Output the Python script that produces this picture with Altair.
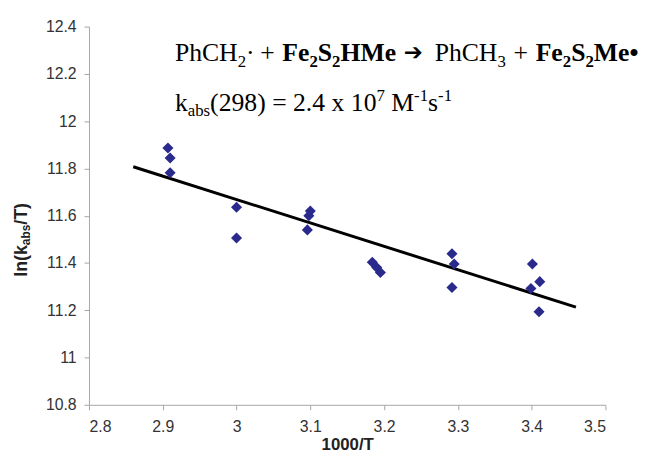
import altair as alt
import pandas as pd

# ---- data ----
inv_T = [2.907, 2.91, 2.91, 3.0, 3.0, 3.1, 3.098, 3.096, 3.184, 3.19, 3.195,
         3.292, 3.295, 3.292, 3.401, 3.411, 3.399, 3.41]
ln_kT = [11.886, 11.844, 11.782, 11.636, 11.506, 11.62, 11.60, 11.54, 11.403, 11.381, 11.36,
         11.439, 11.396, 11.296, 11.396, 11.321, 11.292, 11.194]
fit_x = [2.86, 3.46]
fit_y = [11.807, 11.213]
x_ticks = [2.8, 2.9, 3.0, 3.1, 3.2, 3.3, 3.4, 3.5]
y_ticks = [10.8, 11.0, 11.2, 11.4, 11.6, 11.8, 12.0, 12.2, 12.4]

W, H = 523, 383

pts = pd.DataFrame({"x": inv_T, "y": ln_kT})
fit = pd.DataFrame({"x": fit_x, "y": fit_y})

xs = alt.Scale(domain=[2.8, 3.5], nice=False, zero=False)
ys = alt.Scale(domain=[10.8, 12.4], nice=False, zero=False)

x_axis = alt.Axis(values=x_ticks, format="~g", title="1000/T", labelPadding=9,
                  titlePadding=2)
y_axis = alt.Axis(values=y_ticks, format="~g", title=None, labelPadding=8)

points = alt.Chart(pts).mark_point(shape="diamond", filled=True, size=125,
                                   color="#2a2a8c", opacity=1).encode(
    x=alt.X("x:Q", scale=xs, axis=x_axis),
    y=alt.Y("y:Q", scale=ys, axis=y_axis),
)
line = alt.Chart(fit).mark_line(color="black", strokeWidth=3).encode(
    x=alt.X("x:Q", scale=xs), y=alt.Y("y:Q", scale=ys))

# ---- rich text annotation (words laid out with Times metrics) ----
REG = {"P": 556, "h": 500, "C": 667, "H": 722, "·": 250, "+": 564, "k": 500,
       "a": 444, "b": 500, "s": 389, "(": 333, ")": 333, "=": 564, ".": 250, "x": 500,
       "M": 889, "-": 333}
BOLD = {"F": 611, "e": 444, "S": 556, "H": 778, "M": 944, "•": 350}


def tw(t, style):
    if style == "arrow":
        return 0.9 * len(t)
    tab = BOLD if style == "bold" else REG
    return sum((500 if c.isdigit() else tab.get(c, 500)) for c in t) / 1000.0


FS, SFS = 26, 17
line1 = [("PhCH", "reg", "n"), ("2", "reg", "sub"), ("· + ", "reg", "n"),
         ("Fe", "bold", "n"), ("2", "bold", "sub"), ("S", "bold", "n"), ("2", "bold", "sub"),
         ("HMe ", "bold", "n"), ("➔", "arrow", "n"), (" PhCH", "reg", "n"), ("3", "reg", "sub"),
         (" + ", "reg", "n"), ("Fe", "bold", "n"), ("2", "bold", "sub"), ("S", "bold", "n"),
         ("2", "bold", "sub"), ("Me•", "bold", "n")]
line2 = [("k", "reg", "n"), ("abs", "reg", "sub"), ("(298) = 2.4 x 10", "reg", "n"),
         ("7", "reg", "sup"), (" M", "reg", "n"), ("-1", "reg", "sup"), ("s", "reg", "n"),
         ("-1", "reg", "sup")]


def layout(pieces, x0, y0, space):
    out = []
    x = x0
    for t, style, kind in pieces:
        size = FS if kind == "n" else SFS
        dy = 0 if kind == "n" else (6 if kind == "sub" else -10)
        words = t.split(" ")
        for i, w in enumerate(words):
            if w:
                out.append((w, style, size, x, y0 + dy))
                x += tw(w, style) * size
            if i < len(words) - 1:
                x += space * size
    return out


layers = [line, points]
for t, style, size, x, y in layout(line1, 87, 35, 0.3) + layout(line2, 87, 85, 0.25):
    font = "DejaVu Sans" if style == "arrow" else "Liberation Serif"
    layers.append(alt.Chart(alt.Data(values=[{}])).mark_text(
        align="left", baseline="alphabetic", font=font,
        fontSize=size - 3 if style == "arrow" else size,
        fontWeight="normal" if style == "reg" else "bold", color="black",
        x=x, y=y - (1 if style == "arrow" else 0)).encode(text=alt.value(t)))

# ---- rotated y-axis title with subscript ----
ARB = {"l": 278, "n": 611, "(": 333, "k": 556, "a": 556, "b": 611, "s": 556, "/": 278,
       "T": 611, ")": 333}
TF, TSF = 18, 12
ypieces = [("ln(k", TF, 0), ("abs", TSF, 3), ("/T)", TF, 0)]
total = sum(sum(ARB[c] for c in t) / 1000 * s for t, s, _ in ypieces)
yc = 216
yy = yc + total / 2
for t, s, off in ypieces:
    layers.append(alt.Chart(alt.Data(values=[{}])).mark_text(
        align="left", baseline="alphabetic", font="Liberation Sans", fontSize=s,
        fontWeight="bold", color="#222222", angle=270, x=-63 + off, y=yy).encode(
        text=alt.value(t)))
    yy -= sum(ARB[c] for c in t) / 1000 * s

chart = alt.layer(*layers).properties(
    width=W, height=H,
    autosize=alt.AutoSizeParams(type="none"),
    padding={"left": 82, "top": 16, "right": 35, "bottom": 47},
).configure_view(stroke=None).configure_axis(
    grid=False, domainColor="#a8a4a4", tickColor="#a8a4a4", tickSize=5,
    labelFont="Liberation Sans", labelFontSize=16, labelColor="#333333",
    titleFont="Liberation Sans", titleFontSize=17, titleFontWeight="bold",
    titleColor="#222222",
)

chart.save("out.html", embed_options={"renderer": "svg", "actions": False})
